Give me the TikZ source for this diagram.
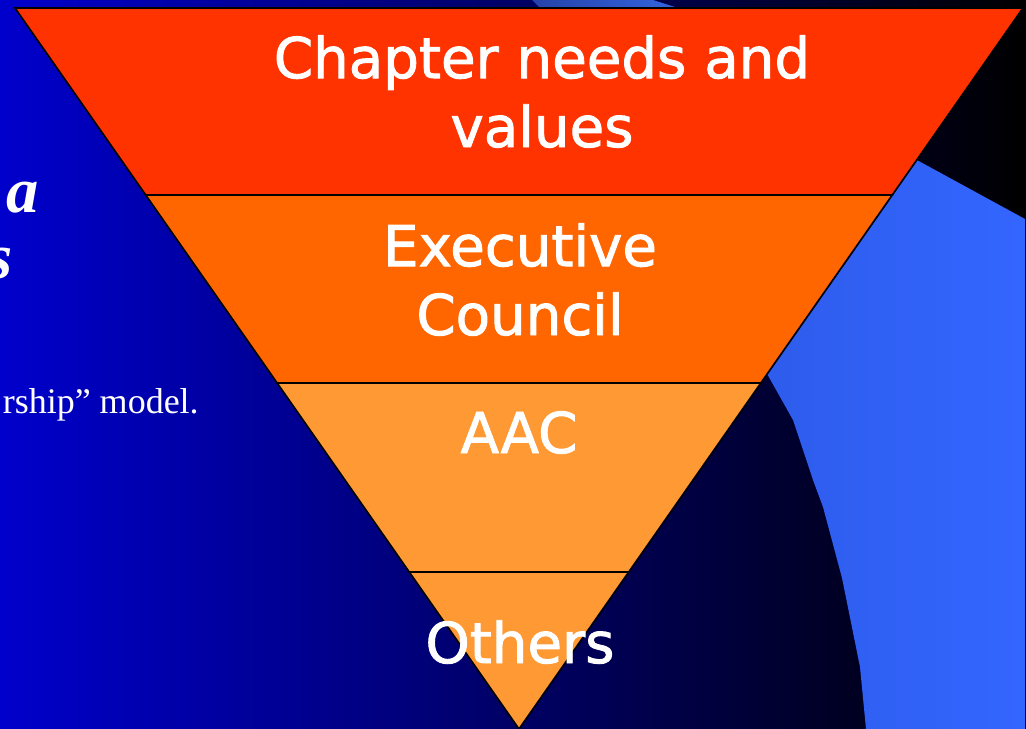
\documentclass[tikz,border=0pt]{standalone}
\usepackage{fontspec}
\setmainfont{Liberation Serif}
\newfontfamily\labelfont[FakeBold=1.6]{DejaVu Sans}
\usepackage{tikz}
\usetikzlibrary{calc}

\definecolor{deepblue}{RGB}{0,0,204}
\definecolor{skyblue}{RGB}{51,102,255}
\definecolor{skyblueL}{RGB}{46,92,236}
\definecolor{bandA}{RGB}{255,51,0}
\definecolor{bandB}{RGB}{255,102,0}
\definecolor{bandC}{RGB}{255,153,51}

\begin{document}
\begin{tikzpicture}[x=0.025cm, y=-0.025cm,
  band/.style={draw=black, line width=1.2pt, line join=miter},
  lbl/.style={text=white, font=\labelfont\fontsize{40}{49}\selectfont, align=center, inner sep=0pt, anchor=base},
  serif/.style={text=white, inner sep=0pt, anchor=base east}]
\useasboundingbox (0,0) rectangle (1026,729);
\clip (0,0) rectangle (1026,729);
% backdrop
\shade[left color=deepblue, right color=black] (0,0) rectangle (1026,729);
% light blue shapes behind the funnel
\shade[left color={rgb,255:red,38;green,66;blue,168}, right color={rgb,255:red,50;green,100;blue,222}]
  (532,0) -- (653,0) -- (678,8) -- (540,8) -- cycle;
\shade[left color=skyblueL, right color=skyblue]
  (915,159) -- (1025,219) -- (1025,729) -- (866,729) -- (860,667) -- (842,578)
  -- (823,507) -- (813,480) -- (793,420) -- (766,372) -- cycle;
% slide text running under the funnel
\node[serif, font=\fontsize{46}{50}\selectfont\bfseries\itshape] (ta) at (39,212) {a};
\node[serif, font=\fontsize{46}{50}\selectfont\bfseries\itshape] (ts) at (13,278) {s};
\node[serif, font=\fontsize{25.6}{30}\selectfont] (tm) at (199,413) {rship” model.};
% funnel bands
\coordinate (tl) at (15,8);
\coordinate (tr) at (1023,8);
\coordinate (ap) at (519,729);
\foreach \a/\b/\c in {0/0.2594/bandA, 0.2594/0.5201/bandB, 0.5201/0.7822/bandC}
  \filldraw[band, fill=\c] ($(tl)!\a!(ap)$) -- ($(tr)!\a!(ap)$) -- ($(tr)!\b!(ap)$) -- ($(tl)!\b!(ap)$) -- cycle;
\filldraw[band, fill=bandC] ($(tl)!0.7822!(ap)$) -- ($(tr)!0.7822!(ap)$) -- (ap) -- cycle;
% band labels (base = last line)
\node[lbl] (needs) at (542,147) {Chapter needs and\\values};
\node[lbl] (exec) at (520,335) {Executive\\Council};
\node[lbl] (aac) at (519,453) {AAC};
\node[lbl] (others) at (520,663) {Others};
\end{tikzpicture}
\end{document}
